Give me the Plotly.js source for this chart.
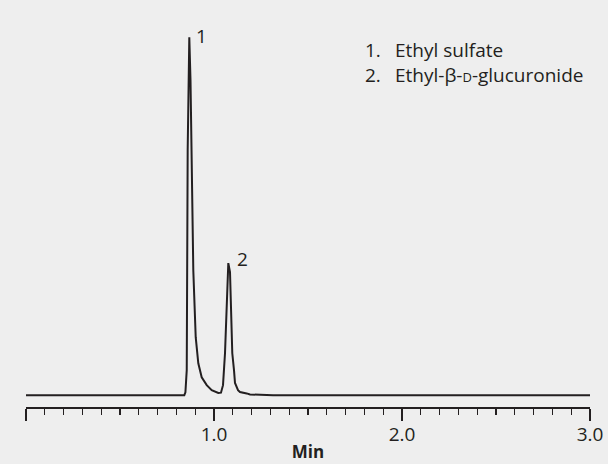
<!DOCTYPE html>
<html>
<head>
<meta charset="utf-8">
<script src="https://cdn.plot.ly/plotly-3.0.1.min.js"></script>
<style>
  html, body { margin: 0; padding: 0; background: #eeeeee; }
  #chart { width: 608px; height: 464px; }
</style>
</head>
<body>
<div id="chart"></div>
<script>
// Retention time (min) and detector signal (relative units)
const timeMin = [0.0, 0.3, 0.6, 0.8, 0.842, 0.848, 0.855, 0.860, 0.863, 0.8686,
  0.875, 0.8777, 0.8814, 0.8899, 0.9027, 0.9165, 0.9346, 0.9612, 0.9878, 1.0229,
  1.0372, 1.0479, 1.0585, 1.0665, 1.0761, 1.0851, 1.0904, 1.0973, 1.1064, 1.1117,
  1.1277, 1.1383, 1.1739, 1.1915, 1.3138, 2.0, 2.5, 3.0];
const signal = [0.0, 0.0, 0.0, 0.0, 0.0, 0.8, 7.0, 68.5, 78.8, 100.0,
  88.0, 78.8, 65.7, 34.9, 16.2, 8.9, 5.0, 2.8, 1.4, 0.64,
  0.7, 2.8, 11.7, 23.8, 36.9, 34.4, 23.8, 11.7, 7.0, 3.4,
  1.4, 0.9, 0.5, 0.2, 0.0, 0.0, 0.0, 0.0];

const tickValues = [0, 1, 2, 3];
const tickLabels = ['', '1.0', '2.0', '3.0'];

const peakNumbers = ['1', '2'];
const peakTimes = [0.931, 1.152];
const peakLabelHeights = [100.4, 38.0];

const legendNumbers = ['1.', '2.'];
const legendNames = ['Ethyl sulfate', 'Ethyl-β-<span style="font-size:13px">D</span>-glucuronide'];

const FONT = '"Open Sans", "Noto Sans", sans-serif';
const INK = '#231f20';

const annotations = [];
peakNumbers.forEach((p, i) => {
  annotations.push({
    x: peakTimes[i], y: peakLabelHeights[i], xref: 'x', yref: 'y',
    text: p, showarrow: false, xanchor: 'center', yanchor: 'middle',
    font: { family: FONT, size: 19, color: INK }
  });
});
const legendY = [96.4, 89.5];
legendNumbers.forEach((n, i) => {
  annotations.push({
    x: 1.793, y: legendY[i], xref: 'x', yref: 'y', text: n, showarrow: false,
    xanchor: 'left', yanchor: 'middle', font: { family: FONT, size: 19, color: INK }
  });
  annotations.push({
    x: 1.952, y: legendY[i], xref: 'x', yref: 'y', text: legendNames[i], showarrow: false,
    xanchor: 'left', yanchor: 'middle', font: { family: FONT, size: 19, color: INK }
  });
});

const data = [{
  x: timeMin, y: signal, type: 'scatter', mode: 'lines',
  line: { color: INK, width: 2 }, hoverinfo: 'skip'
}];

const layout = {
  width: 608, height: 464,
  paper_bgcolor: '#eeeeee', plot_bgcolor: '#eeeeee',
  margin: { l: 26, r: 18, t: 20, b: 57, pad: 0 },
  showlegend: false,
  font: { family: FONT, color: INK },
  xaxis: {
    range: [0, 3], showgrid: false, zeroline: false,
    showline: true, linecolor: '#231f20', linewidth: 1.5,
    tickmode: 'array', tickvals: tickValues, ticktext: tickLabels,
    ticks: 'outside', ticklen: 12, tickwidth: 1.5, tickcolor: '#231f20',
    tickfont: { family: FONT, size: 19, color: INK },
    ticklabelstandoff: -2,
    minor: { tickmode: 'linear', tick0: 0, dtick: 0.1, ticks: 'outside', ticklen: 6, tickwidth: 1.2, tickcolor: '#231f20', showgrid: false },
    title: { text: '<b>Min</b>', font: { family: FONT, size: 17, color: INK }, standoff: 0 }
  },
  yaxis: {
    range: [-3.3, 104.8], visible: false, showgrid: false, zeroline: false
  },
  annotations: annotations
};

Plotly.newPlot('chart', data, layout, { displayModeBar: false, staticPlot: true });
</script>
</body>
</html>
